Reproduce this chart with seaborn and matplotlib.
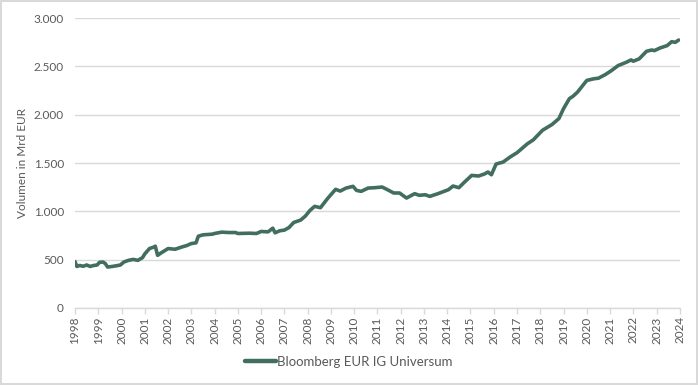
import matplotlib
matplotlib.use("Agg")
import matplotlib.pyplot as plt
import seaborn as sns
import pandas as pd
from matplotlib.ticker import FuncFormatter, MultipleLocator

# decimal years and index volume (Mrd EUR)
dates = [1998.0, 1998.08, 1998.2, 1998.35, 1998.5, 1998.65, 1998.8, 1998.95,
         1999.05, 1999.2, 1999.3, 1999.4, 1999.6, 1999.8, 1999.95,
         2000.1, 2000.3, 2000.5, 2000.7, 2000.9, 2001.0, 2001.2, 2001.4, 2001.45,
         2001.55, 2001.7, 2002.0, 2002.3, 2002.6, 2002.8, 2003.0, 2003.2, 2003.3,
         2003.5, 2003.9, 2004.0, 2004.3, 2004.6, 2004.9, 2005.0, 2005.5, 2005.8,
         2006.0, 2006.3, 2006.5, 2006.6, 2006.8, 2007.0, 2007.2, 2007.4, 2007.7,
         2007.9, 2008.1, 2008.3, 2008.55, 2008.85, 2009.2, 2009.4, 2009.65, 2009.95,
         2010.1, 2010.3, 2010.6, 2010.9, 2011.2, 2011.4, 2011.7, 2011.95, 2012.25,
         2012.6, 2012.8, 2013.05, 2013.25, 2013.6, 2014.05, 2014.25, 2014.5, 2014.7,
         2015.05, 2015.35, 2015.6, 2015.75, 2015.9, 2016.1, 2016.4, 2016.7, 2017.0,
         2017.25, 2017.45, 2017.7, 2018.1, 2018.5, 2018.8, 2019.0, 2019.25, 2019.4,
         2019.6, 2020.0, 2020.3, 2020.5, 2020.8, 2021.06, 2021.35, 2021.7, 2021.9,
         2022.0, 2022.25, 2022.57, 2022.8, 2022.9, 2023.15, 2023.45, 2023.65, 2023.8,
         2023.95]
volumes = [480, 430, 440, 432, 445, 430, 440, 445,
           472, 476, 460, 424, 430, 438, 445,
           476, 493, 503, 493, 521, 560, 615, 632, 640,
           545, 570, 615, 608, 632, 646, 667, 674, 743,
           757, 764, 771, 785, 781, 781, 771, 774, 771,
           792, 788, 826, 778, 799, 806, 833, 885, 910,
           951, 1010, 1052, 1038, 1131, 1228, 1210, 1241, 1259,
           1217, 1207, 1241, 1245, 1252, 1228, 1190, 1190, 1138,
           1183, 1166, 1172, 1155, 1183, 1224, 1262, 1245, 1293,
           1372, 1366, 1387, 1407, 1379, 1490, 1510, 1562, 1607,
           1659, 1700, 1740, 1840, 1898, 1960, 2063, 2166, 2190,
           2234, 2355, 2372, 2378, 2416, 2457, 2509, 2543, 2567,
           2554, 2578, 2657, 2670, 2663, 2691, 2715, 2756, 2749,
           2773]
series_name = "Bloomberg EUR IG Universum"
year_ticks = list(range(1998, 2025))

df = pd.DataFrame({"Jahr": dates, "Volumen": volumes, "Serie": series_name})

sns.set_theme(style="white")
plt.rcParams["font.family"] = ["Lato", "DejaVu Sans"]

fig = plt.figure(figsize=(6.98, 3.85), dpi=100)
fig.patch.set_edgecolor("#D9D9D9")
fig.patch.set_linewidth(1.5)
ax = fig.add_axes([0.1075, 0.2, 0.8665, 0.753])

sns.lineplot(data=df, x="Jahr", y="Volumen", hue="Serie", palette=["#426E5E"],
             linewidth=2.6, ax=ax, legend=True)

ax.set_xlim(1998, 2024)
ax.set_ylim(0, 3000)
ax.yaxis.set_major_locator(MultipleLocator(500))
ax.yaxis.set_major_formatter(FuncFormatter(lambda v, p: f"{int(v):,}".replace(",", ".")))
ax.set_xticks(year_ticks)
ax.set_xticklabels([str(y) for y in year_ticks], rotation=90)
ax.grid(axis="y", color="#D9D9D9", linewidth=1)
ax.set_axisbelow(True)
for s in ["top", "right", "left"]:
    ax.spines[s].set_visible(False)
ax.spines["bottom"].set_color("#D9D9D9")
ax.spines["bottom"].set_linewidth(1)
ax.tick_params(axis="x", colors="#595959", labelsize=8.5, length=4, width=1,
               direction="out", pad=2, bottom=True)
ax.tick_params(axis="x", color="#D9D9D9")
ax.tick_params(axis="y", colors="#595959", labelsize=8.5, length=0, pad=8)
ax.set_xlabel("")
ax.set_ylabel("Volumen in Mrd EUR", color="#595959", fontsize=8.5)
ax.yaxis.set_label_coords(-0.078, 0.5)

handles, labels = ax.get_legend_handles_labels()
ax.legend(handles, labels, loc="center", bbox_to_anchor=(0.453, -0.186),
          bbox_transform=ax.transAxes, frameon=False, fontsize=9.5,
          labelcolor="#595959", handlelength=2.3, handletextpad=0.1)
for line in ax.get_legend().get_lines():
    line.set_linewidth(3.2)

fig.savefig("out.png", dpi=100)
